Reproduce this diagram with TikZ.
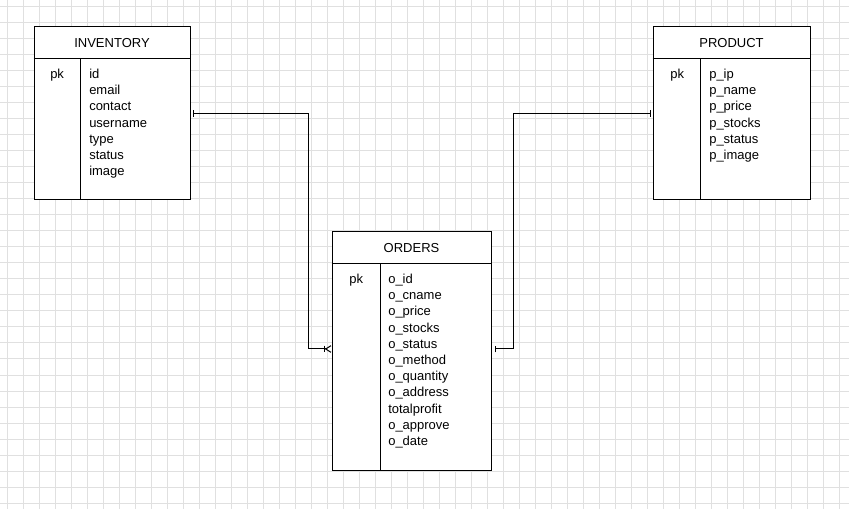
\documentclass[tikz,border=0pt]{standalone}
\usepackage{fontspec}
\setmainfont{Liberation Sans}
\usetikzlibrary{arrows.meta}

\definecolor{gridgray}{HTML}{E0E0E0}
\newcommand{\erfont}{\fontsize{9.75}{12}\selectfont}

\tikzset{
  gridline/.style={draw=gridgray, line width=0.75pt},
  entity/.style={draw=black, line width=0.75pt, inner sep=0pt},
  rule/.style={draw=black, line width=0.75pt},
  field/.style={anchor=base west},
  conn/.style={draw=black, line width=0.75pt},
  one/.tip={Bar[width=5pt, line width=0.75pt]},
  many/.tip={Bar[width=5pt, line width=0.75pt] Straight Barb[reversed, length=4pt, width=5pt, line width=0.75pt]}
}

\begin{document}
\begin{tikzpicture}[x=0.75pt, y=-0.75pt]
    \tikzstyle{every node}+=[inner sep=0pt, font=\erfont]
    \fill [white] (0,0) rectangle (849,509);
    \useasboundingbox (0,0) rectangle (849,509);
    % grid
    \foreach \gx in {7,23,...,847} \draw [gridline] (\gx,0) -- (\gx,509);
    \foreach \gy in {7,23,...,503} \draw [gridline] (0,\gy) -- (849,\gy);

    % INVENTORY
    \node [entity, fill=white, minimum width=117pt, minimum height=129.75pt] (inv) at (112,113.5) {};
    \draw [rule] ([yshift=-24pt]inv.north west) -- ([yshift=-24pt]inv.north east);
    \draw [rule] ([shift={(47,32)}]inv.north west) -- ([xshift=35.25pt]inv.south west);
    \node (invt) at (112,43) {INVENTORY};
    \node [field] (invpk) at (50,78.5) {pk};
    \foreach \f [count=\i] in {id,email,contact,username,type,status,image}
        \node [field] (invf\i) at (89,62.3+16.2*\i) {\f};

    % PRODUCT
    \node [entity, fill=white, minimum width=117.75pt, minimum height=129.75pt] (prod) at (731.5,113.5) {};
    \draw [rule] ([yshift=-24pt]prod.north west) -- ([yshift=-24pt]prod.north east);
    \draw [rule] ([shift={(48,32)}]prod.north west) -- ([xshift=36pt]prod.south west);
    \node (prodt) at (731.5,43) {PRODUCT};
    \node [field] (prodpk) at (670,78.5) {pk};
    \foreach \f [count=\i] in {p\_ip,p\_name,p\_price,p\_stocks,p\_status,p\_image}
        \node [field] (prodf\i) at (709,62.3+16.2*\i) {\f};

    % ORDERS
    \node [entity, fill=white, minimum width=119.25pt, minimum height=178.5pt] (ord) at (411.5,351) {};
    \draw [rule] ([yshift=-24pt]ord.north west) -- ([yshift=-24pt]ord.north east);
    \draw [rule] ([shift={(49,32)}]ord.north west) -- ([xshift=36.75pt]ord.south west);
    \node (ordt) at (411.5,248) {ORDERS};
    \node [field] (ordpk) at (349,283.5) {pk};
    \foreach \f [count=\i] in {o\_id,o\_cname,o\_price,o\_stocks,o\_status,o\_method,o\_quantity,o\_address,totalprofit,o\_approve,o\_date}
        \node [field] (ordf\i) at (388,267.3+16.2*\i) {\f};

    % relations
    \draw [conn, {one}-{many}, shorten <=1.5pt] (inv.east) -- ++(118,0) |- ([yshift=1.5pt]ord.west);
    \draw [conn, {one}-{one}, shorten <=1.5pt, shorten >=2.25pt] (prod.west) -- ++(-139,0) |- ([yshift=1.5pt]ord.east);
\end{tikzpicture}
\end{document}
